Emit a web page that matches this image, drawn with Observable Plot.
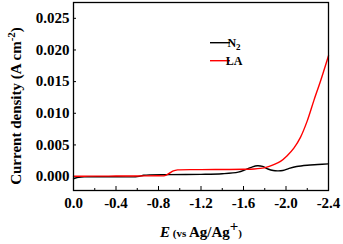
<!DOCTYPE html>
<html>
<head>
<meta charset="utf-8">
<script src="https://cdn.jsdelivr.net/npm/d3@7"></script>
<script src="https://cdn.jsdelivr.net/npm/@observablehq/plot@0.6"></script>
<style>
  html, body { margin: 0; padding: 0; background: white; }
</style>
</head>
<body>
<div id="chart"></div>
<script>
// Series names
const seriesNames = ["N2", "LA"];
const seriesColors = ["black", "red"];

// N2 curve (E vs Ag/Ag+, V ; current density A cm^-2)
const E_N2 = [0, -0.02, -0.05, -0.1, -0.3, -0.6, -0.66, -0.72, -0.9, -1.2, -1.4, -1.55, -1.62, -1.68, -1.73, -1.78, -1.83, -1.88, -1.92, -1.97, -2.03, -2.1, -2.2, -2.3, -2.4];
const J_N2 = [-0.00036, -0.00022, -0.00012, -0.00005, -0.00002, 0.0, 0.0002, 0.00027, 0.0003, 0.00035, 0.00045, 0.0007, 0.0011, 0.0015, 0.0017, 0.0016, 0.0012, 0.00095, 0.0009, 0.00095, 0.0013, 0.0016, 0.0018, 0.0019, 0.002];

// LA curve
const E_LA = [0, -0.1, -0.2, -0.4, -0.6, -0.8, -0.86, -0.9, -0.94, -0.98, -1.2, -1.4, -1.6, -1.7, -1.76, -1.82, -1.885, -1.948, -2.011, -2.074, -2.136, -2.2, -2.262, -2.325, -2.4];
const J_LA = [0.00005, 0.00006, 0.00007, 0.00008, 0.0001, 0.00012, 0.00015, 0.0005, 0.0009, 0.00105, 0.0011, 0.00112, 0.00115, 0.0012, 0.0013, 0.0015, 0.0019, 0.0024, 0.0033, 0.0045, 0.0062, 0.0088, 0.012, 0.0151, 0.0191];

// Ticks
const xTicks = [0, -0.4, -0.8, -1.2, -1.6, -2.0, -2.4];
const xMinorTicks = [-0.2, -0.6, -1.0, -1.4, -1.8, -2.2];
const yTicks = [0, 0.005, 0.01, 0.015, 0.02, 0.025];

const rows = [
  ...E_N2.map((e, i) => ({E: e, J: J_N2[i], s: seriesNames[0]})),
  ...E_LA.map((e, i) => ({E: e, J: J_LA[i], s: seriesNames[1]}))
];

const font = "'Liberation Serif', 'Times New Roman', serif";

const plot = Plot.plot({
  width: 343,
  height: 244,
  marginLeft: 73,
  marginRight: 15,
  marginTop: 2,
  marginBottom: 54,
  style: {fontFamily: font, fontWeight: "bold", fontSize: "15px", color: "black", background: "white"},
  x: {domain: [0, -2.4]},
  y: {domain: [-0.0022, 0.0275]},
  color: {domain: seriesNames, range: seriesColors},
  marks: [
    Plot.axisX(xTicks, {tickSize: 0, tickPadding: 7, tickFormat: d => d.toFixed(1), label: null}),
    Plot.axisX(xTicks, {tickSize: -4, tickFormat: () => "", label: null}),
    Plot.axisX(xMinorTicks, {tickSize: -2, tickFormat: () => "", label: null}),
    Plot.axisY(yTicks, {tickSize: 0, tickPadding: 4, tickFormat: d => d.toFixed(3), label: null}),
    Plot.axisY(yTicks, {tickSize: -3, tickFormat: () => "", label: null}),
    Plot.line(rows, {x: "E", y: "J", z: "s", stroke: "s", strokeWidth: 1.4, curve: "catmull-rom"}),
    Plot.frame({stroke: "black", strokeWidth: 1.3})
  ]
});

document.getElementById("chart").appendChild(plot);

// Axis titles and legend with rich text
const svg = d3.select(plot);

const yl = svg.append("text")
  .attr("transform", "translate(21,106) rotate(-90)")
  .attr("text-anchor", "middle")
  .style("font-family", font).style("font-weight", "bold").style("font-size", "15px")
  .attr("fill", "black");
yl.append("tspan").text("Current density (A cm");
yl.append("tspan").attr("dy", "-6").style("font-size", "11px").text("-2");
yl.append("tspan").attr("dy", "6").text(")");

const xl = svg.append("text")
  .attr("x", 201).attr("y", 236.5)
  .attr("text-anchor", "middle")
  .style("font-family", font).style("font-weight", "bold").style("font-size", "15px")
  .attr("fill", "black");
xl.append("tspan").style("font-style", "italic").text("E");
xl.append("tspan").style("font-size", "11px").text(" (vs ");
xl.append("tspan").text("Ag/Ag");
xl.append("tspan").attr("dy", "-6").text("+");
xl.append("tspan").attr("dy", "6").style("font-size", "11px").text(")");

const leg = svg.append("g");
[0, 1].forEach(i => {
  const y = 42.7 + i * 18;
  leg.append("line").attr("x1", 210).attr("x2", 230).attr("y1", y).attr("y2", y)
    .attr("stroke", seriesColors[i]).attr("stroke-width", 1.4);
  const t = leg.append("text").attr("x", 234).attr("y", y + 4)
    .style("font-family", font).style("font-weight", "bold").style("font-size", "12px").attr("fill", "black");
  if (seriesNames[i] === "N2") {
    t.append("tspan").text("N");
    t.append("tspan").attr("dy", "3").style("font-size", "9px").text("2");
  } else {
    t.append("tspan").text(seriesNames[i]);
  }
});
</script>
</body>
</html>
